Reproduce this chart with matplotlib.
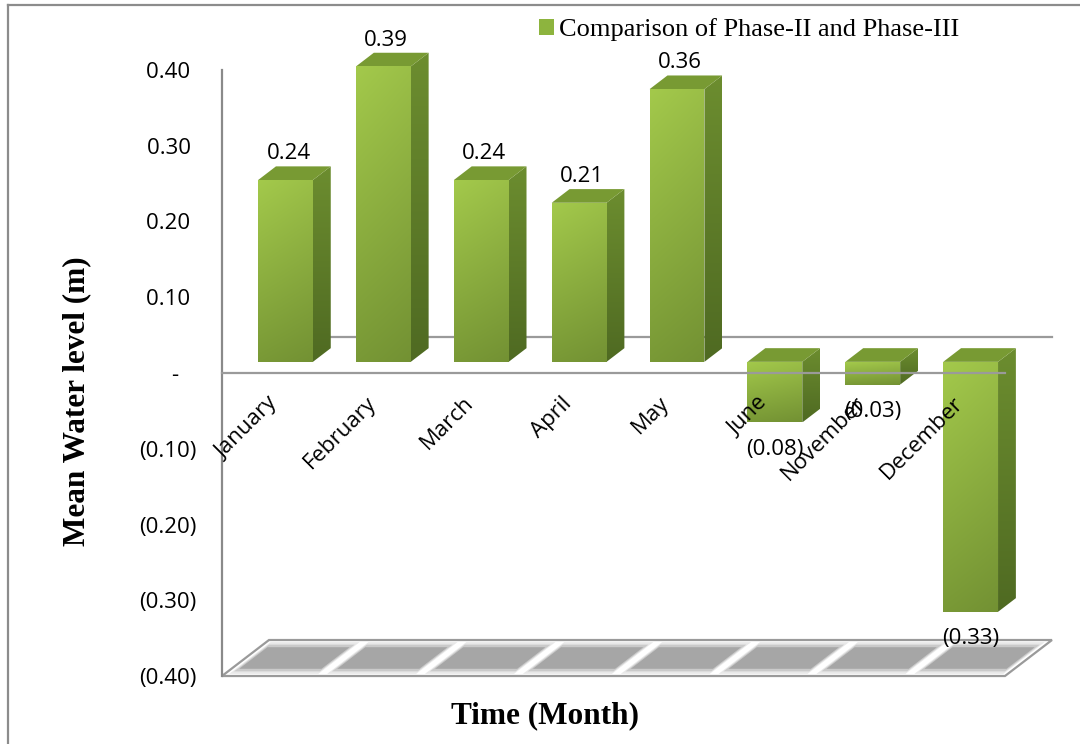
import numpy as np
import matplotlib
matplotlib.use("Agg")
import matplotlib.pyplot as plt
from matplotlib.patches import Polygon, Patch
from matplotlib.lines import Line2D
from matplotlib.colors import to_rgb

# ---- data -------------------------------------------------------------
months = ["January", "February", "March", "April", "May",
          "June", "November", "December"]
level_change = [0.24, 0.39, 0.24, 0.21, 0.36, -0.08, -0.03, -0.33]
y_ticks = [-0.40, -0.30, -0.20, -0.10, 0.0, 0.10, 0.20, 0.30, 0.40]
series_name = "Comparison of Phase-II and Phase-III"
x_title = "Time (Month)"
y_title = "Mean Water level (m)"


def accounting(v):
    """Spreadsheet accounting style: negatives in brackets."""
    if abs(v) < 1e-9:
        return "-"
    return f"{v:.2f}" if v > 0 else f"({abs(v):.2f})"


def tick_text(v):
    if abs(v) < 1e-9:
        return "-   "
    return accounting(v) + (" " if v > 0 else "")


# ---- style ------------------------------------------------------------
SANS = "Open Sans"
SERIF = "Liberation Serif"
LINE = "#9a9a9a"
FRONT_TOP, FRONT_BOT = "#a3c94b", "#799936"
LID_COL = "#789a33"
SIDE_TOP, SIDE_BOT = "#6c8d2f", "#4f6a22"
FLOOR_CELL = "#a6a6a6"

# oblique depth of the plot box (data units) and bar placement in depth
DX, DY = 0.48, 0.0475
BAR_W = 0.56
BAR_FRONT, BAR_BACK = 0.31, 0.69

W, H = 1080, 744
fig = plt.figure(figsize=(W / 100, H / 100), dpi=100)
ax = fig.add_axes([222 / W, (H - 676) / H, (1005 - 222) / W, (676 - 70) / H])
n = len(months)
ymin, ymax = y_ticks[0], y_ticks[-1]
for s in ax.spines.values():
    s.set_visible(False)
ax.patch.set_alpha(0)


def shade(poly, c_top, c_bot, horiz=0.0, z=10):
    """Fill a polygon with a vertical colour gradient."""
    patch = Polygon(poly, closed=True, facecolor="none", edgecolor="none",
                    zorder=z, clip_on=False)
    ax.add_patch(patch)
    xs = [p[0] for p in poly]
    ys = [p[1] for p in poly]
    t = np.linspace(0, 1, 128)[:, None, None]
    h = np.linspace(0, 1, 16)[None, :, None]
    ct, cb = np.array(to_rgb(c_top)), np.array(to_rgb(c_bot))
    img = (ct * (1 - t) + cb * t) * (1 - horiz * h)
    im = ax.imshow(np.clip(img, 0, 1),
                   extent=(min(xs), max(xs), min(ys), max(ys)),
                   origin="upper", aspect="auto", interpolation="bilinear",
                   zorder=z)
    im.set_clip_path(patch)
    im.set_clip_box(fig.bbox)


# ---- floor ------------------------------------------------------------
ax.add_patch(Polygon([(0, ymin), (n, ymin), (n + DX, ymin + DY), (DX, ymin + DY)],
                     closed=True, facecolor="white", edgecolor=LINE, lw=1.6,
                     zorder=1, clip_on=False))
# soft-edged floor tiles: a few translucent layers shrinking inward
for i in range(n):
    for k, (grow, alpha) in enumerate([(0.035, 0.25), (0.018, 0.45), (0.0, 1.0)]):
        d0, d1 = 0.2 - grow * 4, 0.8 + grow * 4
        a, b = i + 0.08 - grow, i + 0.92 + grow
        cell = [(a + d0 * DX, ymin + d0 * DY), (b + d0 * DX, ymin + d0 * DY),
                (b + d1 * DX, ymin + d1 * DY), (a + d1 * DX, ymin + d1 * DY)]
        ax.add_patch(Polygon(cell, closed=True, facecolor=FLOOR_CELL,
                             edgecolor="none", alpha=alpha,
                             zorder=1.5 + 0.01 * k, clip_on=False))

# ---- axis lines ---------------------------------------------------------
ax.plot([DX, n + DX], [DY, DY], color=LINE, lw=1.6, zorder=2, clip_on=False)
ax.plot([0, 0], [ymin, ymax], color="#8a8a8a", lw=1.6, zorder=3, clip_on=False)
ax.plot([0, n], [0, 0], color=LINE, lw=1.6, zorder=20, clip_on=False)

# ---- 3-D columns --------------------------------------------------------
bdx = (BAR_BACK - BAR_FRONT) * DX
bdy = (BAR_BACK - BAR_FRONT) * DY
for i, v in enumerate(level_change):
    cx = i + 0.5 + BAR_FRONT * DX
    x0, x1 = cx - BAR_W / 2, cx + BAR_W / 2
    base = BAR_FRONT * DY
    top = base + max(v, 0)
    bot = base + min(v, 0)
    front = [(x0, bot), (x1, bot), (x1, top), (x0, top)]
    side = [(x1, bot), (x1 + bdx, bot + bdy), (x1 + bdx, top + bdy), (x1, top)]
    lid = [(x0, top), (x1, top), (x1 + bdx, top + bdy), (x0 + bdx, top + bdy)]
    shade(side, SIDE_TOP, SIDE_BOT, z=9)
    ax.add_patch(Polygon(lid, closed=True, facecolor=LID_COL, edgecolor="none",
                         zorder=9, clip_on=False))
    shade(front, FRONT_TOP, FRONT_BOT, horiz=0.05, z=10)

    if v >= 0:
        ax.annotate(accounting(v), (cx + 0.03, top + bdy), xytext=(0, 1.5),
                    textcoords="offset points", ha="center", va="bottom",
                    fontsize=16, family=SANS, zorder=25, annotation_clip=False)
    else:
        ax.annotate(accounting(v), (cx, bot), xytext=(0, -12),
                    textcoords="offset points", ha="center", va="top",
                    fontsize=16, family=SANS, zorder=25, annotation_clip=False)

# ---- category labels ----------------------------------------------------
for i, m in enumerate(months):
    ax.annotate(m, (i + 0.5, 0), xytext=(3, -19.5), textcoords="offset points",
                rotation=45, rotation_mode="anchor", ha="right", va="center",
                fontsize=16, family=SANS, zorder=26, annotation_clip=False)

# ---- value axis ---------------------------------------------------------
ax.set_xlim(0, n)
ax.set_ylim(ymin, ymax)
ax.set_xticks([])
ax.set_yticks(y_ticks)
ax.set_yticklabels([tick_text(v) for v in y_ticks], fontsize=16, family=SANS)
ax.tick_params(axis="y", length=0, pad=18.5)

# ---- titles and legend --------------------------------------------------
fig.text(77 / W, 1 - 401 / H, y_title, rotation=90, ha="center", va="center",
         family=SERIF, weight="bold", fontsize=22.5)
fig.text(545 / W, 1 - 716 / H, x_title, ha="center", va="center",
         family=SERIF, weight="bold", fontsize=22.5)
fig.legend([Patch(facecolor="#8db43e", edgecolor="none")], [series_name],
           loc="center left", bbox_to_anchor=(539 / W, 1 - 30 / H),
           frameon=False, borderpad=0, borderaxespad=0,
           handlelength=0.57, handleheight=0.53, handletextpad=0.17,
           prop={"family": SERIF, "size": 19})

# ---- chart frame --------------------------------------------------------
fig.add_artist(Line2D([8 / W, 8 / W], [0, 1 - 5 / H], transform=fig.transFigure,
                      color="#8c8c8c", lw=1.6))
fig.add_artist(Line2D([8 / W, 1], [1 - 5 / H, 1 - 5 / H], transform=fig.transFigure,
                      color="#8c8c8c", lw=1.6))

fig.savefig("out.png", dpi=100)
